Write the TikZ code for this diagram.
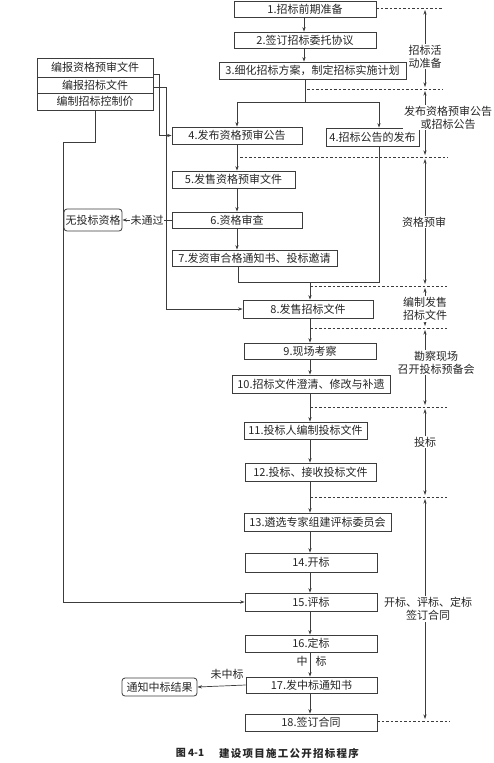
\documentclass[tikz,border=0pt]{standalone}
\usepackage{fontspec}
\setmainfont{Noto Sans CJK SC}
\usetikzlibrary{arrows.meta}
\definecolor{lc}{HTML}{3C3C3C}
\definecolor{tc}{HTML}{262626}
\newcommand\myfs{\fontsize{11}{13}\selectfont}
\tikzset{
  box/.style={draw=lc, line width=0.8pt, fill=white, inner sep=0pt, font=\myfs, text=tc},
  rbox/.style={box, rounded corners=3pt},
  arr/.style={draw=lc, line width=0.7pt, -{Stealth[length=4.5pt,width=3.2pt]}},
  ln/.style={draw=lc, line width=0.7pt},
  dsh/.style={draw=lc, line width=0.6pt, dash pattern=on 2.5pt off 2pt},
  dim/.style={draw=lc, line width=0.6pt, {Stealth[length=4.5pt,width=3pt]}-{Stealth[length=4.5pt,width=3pt]}},
  lab/.style={font=\myfs, text=tc, align=center, inner sep=1pt},
  wlab/.style={lab, fill=white}
}
\begin{document}
\begin{tikzpicture}[x=1pt,y=-1pt]
\useasboundingbox[fill=white] (0,0) rectangle (493,763);
% main boxes
\node[box, minimum width=142pt, minimum height=16pt] (b1) at (305,9) {1.招标前期准备};
\node[box, minimum width=142pt, minimum height=16pt] (b2) at (305,40) {2.签订招标委托协议};
\node[box, minimum width=187pt, minimum height=17pt] (b3) at (312.5,70.5) {3.细化招标方案，制定招标实施计划};
\node[box, minimum width=130pt, minimum height=17pt] (b4a) at (237,135.5) {4.发布资格预审公告};
\node[box, minimum width=93pt, minimum height=18pt] (b4b) at (372.5,137) {4.招标公告的发布};
\node[box, minimum width=123pt, minimum height=17pt] (b5) at (233.5,179.5) {5.发售资格预审文件};
\node[box, minimum width=130pt, minimum height=16pt] (b6) at (237,220) {6.资格审查};
\node[box, minimum width=165pt, minimum height=16pt] (b7) at (254.5,258) {7.发资审合格通知书、投标邀请};
\node[box, minimum width=130pt, minimum height=18pt] (b8) at (308,309) {8.发售招标文件};
\node[box, minimum width=132pt, minimum height=16pt] (b9) at (310,351) {9.现场考察};
\node[box, minimum width=158pt, minimum height=18pt] (b10) at (311,384) {10.招标文件澄清、修改与补遗};
\node[box, minimum width=123pt, minimum height=17pt] (b11) at (305.5,430.5) {11.投标人编制投标文件};
\node[box, minimum width=131pt, minimum height=18pt] (b12) at (310.5,472) {12.投标、接收投标文件};
\node[box, minimum width=147pt, minimum height=18pt] (b13) at (317.5,522) {13.遴选专家组建评标委员会};
\node[box, minimum width=132pt, minimum height=19pt] (b14) at (311,562.5) {14.开标};
\node[box, minimum width=132pt, minimum height=18pt] (b15) at (311,602) {15.评标};
\node[box, minimum width=132pt, minimum height=17pt] (b16) at (311,643.5) {16.定标};
\node[box, minimum width=131pt, minimum height=16pt] (b17) at (311.5,685) {17.发中标通知书};
\node[box, minimum width=132pt, minimum height=17pt] (b18) at (311,722.5) {18.签订合同};
% left boxes
\node[box, minimum width=116pt, minimum height=19pt] (L1) at (95,67.5) {编报资格预审文件};
\node[box, minimum width=116pt, minimum height=16pt] (L2) at (95,85) {编报招标文件};
\node[box, minimum width=116pt, minimum height=17pt] (L3) at (95,101.5) {编制招标控制价};
\node[rbox, minimum width=58pt, minimum height=22pt] (nq) at (93,220) {无投标资格};
\node[rbox, minimum width=75pt, minimum height=18pt] (nt) at (159.5,687) {通知中标结果};
% coordinates
\coordinate (mx) at (310,0);
\coordinate (j3) at (305,102);
\coordinate (ja) at (237,102);
\coordinate (jb) at (379,102);
\coordinate (k7) at (238,282);
\coordinate (k4) at (379,282);
\coordinate (k8) at (310,282);
\coordinate (c1) at (159,74);
\coordinate (c2) at (166,87);
\coordinate (c3a) at (95,142);
\coordinate (c3b) at (63,142);
% flow
\draw[arr] (b1.south -| 304,0) -- (b2.north -| 304,0);
\draw[arr] (b2.south -| 304,0) -- (b3.north -| 304,0);
\draw[ln] (b3.south -| j3) -- (j3);
\draw[ln] (ja) -- (jb);
\draw[arr] (ja) -- (ja |- b4a.north);
\draw[arr] (jb) -- (jb |- b4b.north);
\draw[arr] (b4a.south) -- (b4a.south |- b5.north);
\draw[arr] (b5.south -| b4a.south) -- (b6.north -| b4a.south);
\draw[arr] (b6.south) -- (b6.south |- b7.north);
\draw[ln] (b7.south -| k7) -- (k7) -- (k4) -- (b4b.south -| k4);
\draw[arr] (k8) -- (b8.north -| k8);
\draw[arr] (b8.south -| mx) -- (b9.north -| mx);
\draw[arr] (b9.south -| mx) -- (b10.north -| mx);
\draw[arr] (b10.south -| mx) -- (b11.north -| mx);
\draw[arr] (b11.south -| mx) -- (b12.north -| mx);
\draw[arr] (b12.south -| mx) -- (b13.north -| mx);
\draw[arr] (b13.south -| mx) -- (b14.north -| mx);
\draw[arr] (b14.south -| mx) -- (b15.north -| mx);
\draw[arr] (b15.south -| mx) -- (b16.north -| mx);
\draw[arr] (b16.south -| mx) -- (b17.north -| mx);
\draw[arr] (b17.south -| mx) -- (b18.north -| mx);
\node[lab] (zh1) at (302,661) {中};
\node[lab] (zh2) at (321,661) {标};
% left connectors
\draw[arr] (L1.east |- c1) -- (c1) |- (b4a.west);
\draw[arr] (L2.east |- c2) -- (c2) |- (b8.west);
\draw[arr] (L3.south -| c3a) -- (c3a) -- (c3b) |- (b15.west);
\draw[arr] (b6.west) -- (nq.east) node[wlab, midway, inner sep=0.5pt] (wtg) {未通过};
\draw[arr] (b17.west) -- (nt.east);
\node[lab] (wzb) at (227,674) {未中标};
% dashed lines
\draw[dsh] (b1.east |- 0,8) -- (443,8);
\draw[dsh] (307,89) -- (443,89);
\draw[dsh] (240,157) -- (448,157);
\draw[dsh] (310,286) -- (447,286);
\draw[dsh] (310,328) -- (447,328);
\draw[dsh] (310,407) -- (447,407);
\draw[dsh] (310,497) -- (447,497);
\draw[dsh] (b18.east |- 0,721) -- (450,721);
% right dimension arrows
\coordinate (r0) at (425,10);  \coordinate (r1) at (425,87);
\coordinate (r2) at (425,91);  \coordinate (r3) at (425,155);
\coordinate (r4) at (425,159); \coordinate (r5) at (425,284);
\coordinate (r6) at (425,288); \coordinate (r7) at (425,326);
\coordinate (r8) at (425,330); \coordinate (r9) at (425,405);
\coordinate (r10) at (425,409); \coordinate (r11) at (425,495);
\coordinate (r12) at (425,499); \coordinate (r13) at (425,719);
\draw[dim] (r0) -- (r1);
\draw[dim] (r2) -- (r3);
\draw[dim] (r4) -- (r5);
\draw[dim] (r6) -- (r7);
\draw[dim] (r8) -- (r9);
\draw[dim] (r10) -- (r11);
\draw[dim] (r12) -- (r13);
\node[wlab] (t1) at (425,56.5) {招标活\\动准备};
\node[wlab] (t2) at (448,117.5) {发布资格预审公告\\或招标公告};
\node[wlab] (t3) at (424,222) {资格预审};
\node[wlab] (t4) at (425,309) {编制发售\\招标文件};
\node[wlab] (t5) at (436,362.5) {勘察现场\\召开投标预备会};
\node[wlab] (t6) at (425,442) {投标};
\node[wlab] (t7) at (428,609) {开标、评标、定标\\签订合同};
% caption
\node[lab, font=\fontsize{10}{12}\selectfont\bfseries] (cap1) at (190,753) {图 4-1};
\node[lab, font=\fontsize{10.5}{12}\selectfont\bfseries\addfontfeature{LetterSpace=12}] (cap2) at (289,753) {建设项目施工公开招标程序};
\end{tikzpicture}
\end{document}
